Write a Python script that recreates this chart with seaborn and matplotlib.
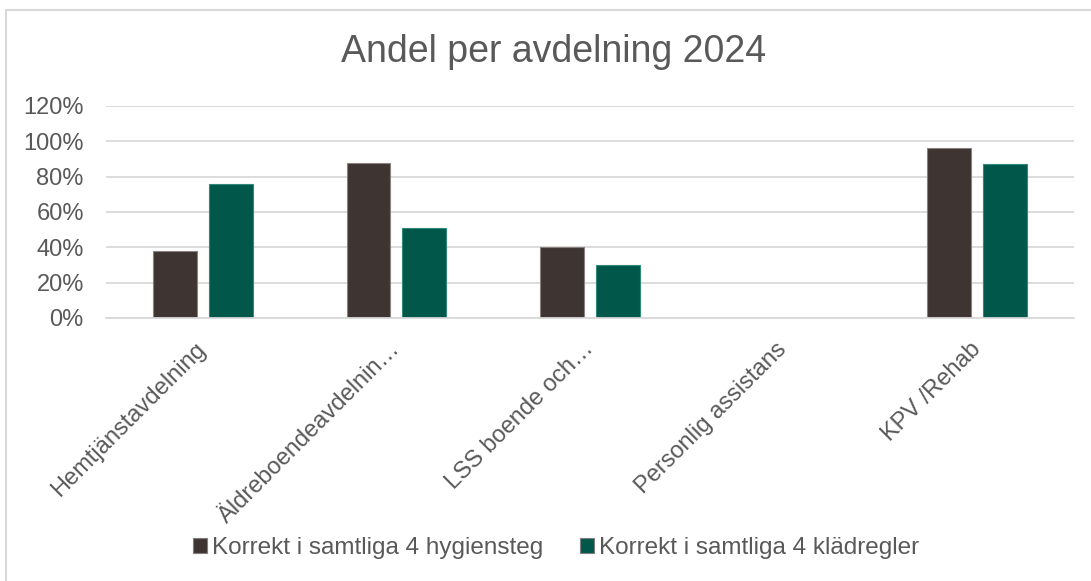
import numpy as np
import pandas as pd
import seaborn as sns
import matplotlib.pyplot as plt
from matplotlib.patches import Rectangle
from matplotlib.ticker import PercentFormatter

# Data
avdelningar = ['Hemtjänstavdelning', 'Äldreboendeavdelnin…', 'LSS boende och…',
               'Personlig assistans', 'KPV /Rehab']
hygiensteg = [0.38, 0.88, 0.40, np.nan, 0.96]
kladregler = [0.76, 0.51, 0.30, np.nan, 0.87]
serier = ['Korrekt i samtliga 4 hygiensteg', 'Korrekt i samtliga 4 klädregler']
farger = ['#3E3532', '#00574A']

df = pd.DataFrame({
    'Avdelning': avdelningar * 2,
    'Andel': hygiensteg + kladregler,
    'Serie': [serier[0]] * len(avdelningar) + [serier[1]] * len(avdelningar),
})

sns.set_style('white')
plt.rcParams['font.family'] = ['Liberation Sans', 'DejaVu Sans']
textfarg = '#595959'

fig = plt.figure(figsize=(10.91, 5.81), dpi=100)
ax = fig.add_axes([106 / 1091, 1 - 318 / 581, (1074 - 106) / 1091, (318 - 106) / 581])

sns.barplot(data=df, x='Avdelning', y='Andel', hue='Serie', order=avdelningar,
            hue_order=serier, palette=farger, saturation=1, width=0.577, gap=0.214,
            linewidth=0.8, edgecolor='#7f7f7f', ax=ax, legend=True)

# kant i serie-färgen lite ljusare
for cont, ec in zip(ax.containers, ['#8a8280', '#2f8a7a']):
    for bar in cont:
        bar.set_edgecolor(ec)

ax.set_ylim(0, 1.2)
ax.set_xlim(-0.5, 4.5)
ax.set_yticks(np.arange(0, 1.21, 0.2))
ax.yaxis.set_major_formatter(PercentFormatter(1.0, decimals=0))
ax.grid(axis='y', color='#D9D9D9', linewidth=1.3)
ax.set_axisbelow(True)
for s in ['left', 'right', 'top']:
    ax.spines[s].set_visible(False)
ax.spines['bottom'].set_color('#D9D9D9')
ax.spines['bottom'].set_linewidth(1.3)
ax.set_xlabel('')
ax.set_ylabel('')
ax.tick_params(axis='both', length=0, labelsize=17, labelcolor=textfarg)
ax.tick_params(axis='y', pad=16)
ax.tick_params(axis='x', pad=20)
plt.setp(ax.get_xticklabels(), rotation=45, ha='right', va='center', rotation_mode='anchor')

ax.get_legend().remove()
handles, labels = ax.get_legend_handles_labels()
fig.legend(handles, labels, loc='center', bbox_to_anchor=(556 / 1091, 1 - 548 / 581),
           ncol=2, frameon=False, fontsize=17.5, labelcolor=textfarg,
           handlelength=0.6, handleheight=0.6, handletextpad=0.2, columnspacing=1.5)

fig.text(554 / 1091, 1 - 52 / 581, 'Andel per avdelning 2024', ha='center', va='center',
         fontsize=27, color=textfarg)

# ram runt diagrammet
fig.patches.append(Rectangle((6 / 1091, -0.1), 1.2, 1 - 10 / 581 + 0.1,
                             transform=fig.transFigure, fill=False,
                             edgecolor='#D9D9D9', linewidth=1.5))

fig.savefig('out.png', dpi=100)
plt.close()
